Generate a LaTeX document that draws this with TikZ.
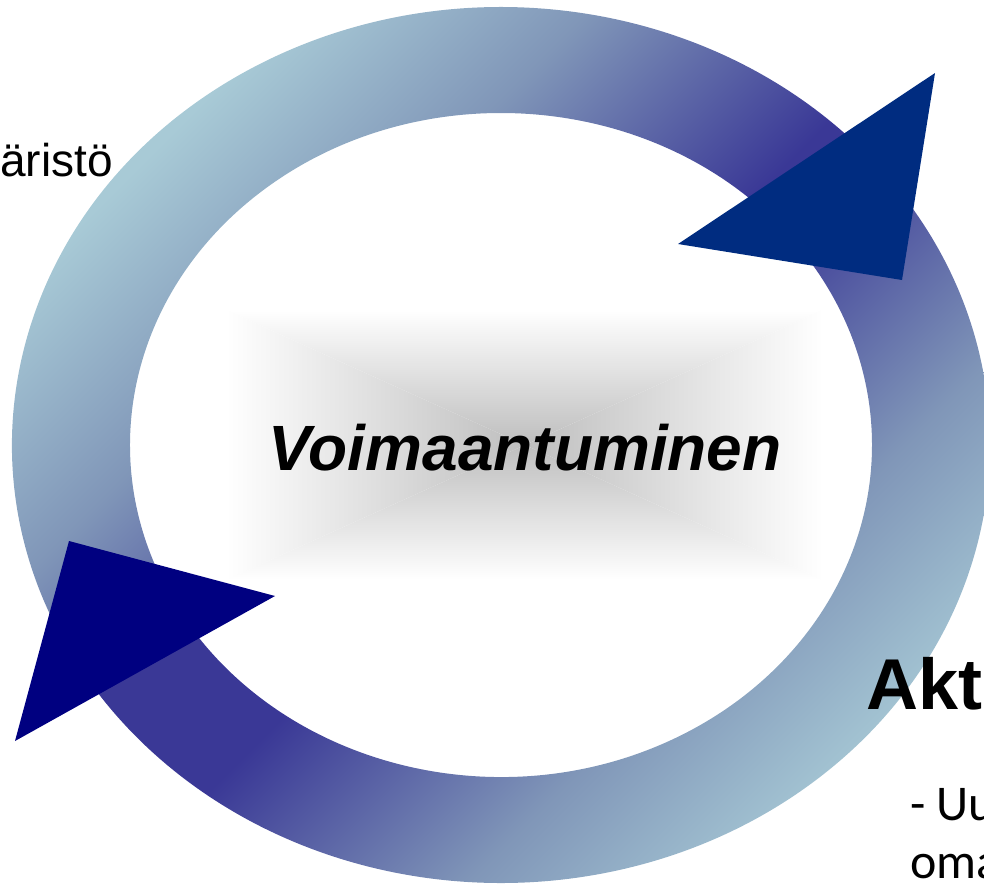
\documentclass[tikz,border=0pt]{standalone}
\usepackage{fontspec}
\setmainfont{Liberation Sans}
\newfontfamily\notefont{Carlito}

\definecolor{ringlight}{RGB}{168,202,214}
\definecolor{ringmid}{RGB}{128,150,184}
\definecolor{ringdark}{RGB}{58,56,150}
\definecolor{headnavy}{RGB}{0,0,128}
\definecolor{headblue}{RGB}{0,44,128}
\definecolor{glowgray}{RGB}{190,190,190}

% gradients of the two ring halves (turned by 45 degrees when used)
\pgfdeclareverticalshading{upperarc}{100bp}{color(0bp)=(ringdark); color(49.6bp)=(ringdark);
  color(61.9bp)=(ringmid); color(72.4bp)=(ringlight); color(100bp)=(ringlight)}
\pgfdeclareverticalshading{lowerarc}{100bp}{color(0bp)=(ringlight); color(25.2bp)=(ringlight);
  color(35.6bp)=(ringmid); color(47.9bp)=(ringdark); color(100bp)=(ringdark)}

\begin{document}
\begin{tikzpicture}
  [x=1pt, y=-1pt,
  word/.style={inner sep=0pt, text=black}]
  \useasboundingbox (0,0) rectangle (984,884);

  % glow behind the title
  \coordinate (glow) at (525,445);
  \shade[top color=white, bottom color=glowgray] (226,310) -- (823,310) -- (glow) -- cycle;
  \shade[top color=glowgray, bottom color=white] (226,580) -- (823,580) -- (glow) -- cycle;
  \shade[left color=white, right color=glowgray] (226,310) -- (226,580) -- (glow) -- cycle;
  \shade[left color=glowgray, right color=white] (823,310) -- (823,580) -- (glow) -- cycle;

  % upper half of the ring
  \begin{scope}
    \clip[shift={(501,445)}] (150:489 and 438)
      arc[start angle=150, end angle=320, x radius=489, y radius=438]
      -- (320:371 and 332)
      arc[start angle=320, end angle=150, x radius=371, y radius=332] -- cycle;
    \shade[shading=upperarc, shading angle=45] (-10,-60) rectangle (1000,950);
  \end{scope}
  % lower half of the ring
  \begin{scope}
    \clip[shift={(501,445)}] (-40:489 and 438)
      arc[start angle=-40, end angle=150, x radius=489, y radius=438]
      -- (150:371 and 332)
      arc[start angle=150, end angle=-40, x radius=371, y radius=332] -- cycle;
    \shade[shading=lowerarc, shading angle=45] (-10,-60) rectangle (1000,950);
  \end{scope}

  % arrow heads
  \fill[headblue] (935,73) -- (902,280) -- (678,244) -- cycle;
  \fill[headnavy] (69,541) -- (275,596) -- (15,741) -- cycle;

  % texts
  \node[word, anchor=base] (title) at (525,470)
    {\fontsize{64}{64}\selectfont\bfseries\itshape Voimaantuminen};
  \node[word, anchor=base west] (envlabel) at (0,176) {\fontsize{46}{46}\selectfont äristö};
  \node[word, anchor=base west] (aktlabel) at (866,709) {\fontsize{72}{72}\selectfont\bfseries Akt};
  \node[word, anchor=base west] (note1) at (910,820) {\notefont\fontsize{50}{50}\selectfont - Uu};
  \node[word, anchor=base west] (note2) at (910,878) {\notefont\fontsize{50}{50}\selectfont oma};
\end{tikzpicture}
\end{document}
